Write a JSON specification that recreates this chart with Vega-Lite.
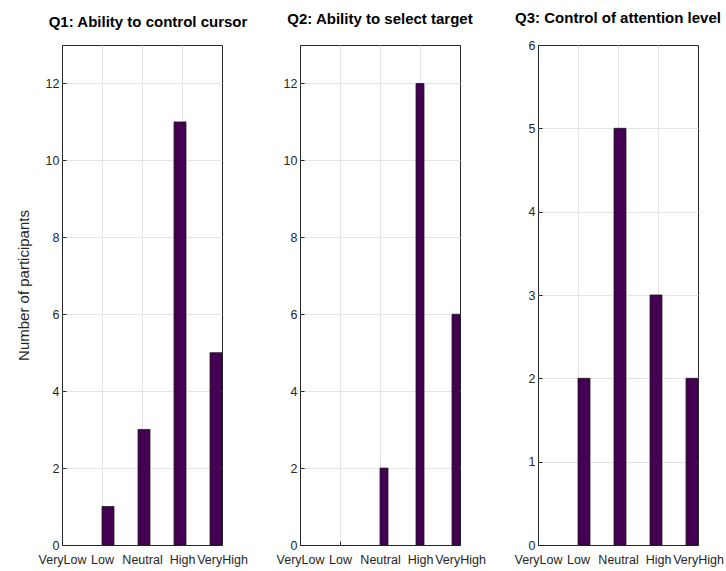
{
  "$schema": "https://vega.github.io/schema/vega-lite/v6.json",
  "padding": {"left": 15, "top": 10, "right": 0, "bottom": 5},
  "background": "white",
  "config": {
    "font": "Liberation Sans",
    "view": {"stroke": "#262626", "strokeWidth": 1},
    "axis": {
      "labelFont": "Liberation Sans",
      "labelFontSize": 12.5,
      "labelColor": "#262626",
      "titleFont": "Liberation Sans",
      "titleFontWeight": "normal",
      "titleColor": "#262626",
      "titleFontSize": 15,
      "gridColor": "#e3e3e3",
      "gridWidth": 1,
      "domain": false,
      "ticks": true,
      "tickSize": -4,
      "tickColor": "#262626",
      "tickWidth": 1
    },
    "title": {"font": "Liberation Sans", "fontSize": 15, "fontWeight": "bold", "color": "#000000", "anchor": "middle"}
  },
  "datasets": {
    "q": [
      {"q": "Q1", "level": "VeryLow", "count": 0},
      {"q": "Q1", "level": "Low", "count": 1},
      {"q": "Q1", "level": "Neutral", "count": 3},
      {"q": "Q1", "level": "High", "count": 11},
      {"q": "Q1", "level": "VeryHigh", "count": 5},
      {"q": "Q2", "level": "VeryLow", "count": 0},
      {"q": "Q2", "level": "Low", "count": 0},
      {"q": "Q2", "level": "Neutral", "count": 2},
      {"q": "Q2", "level": "High", "count": 12},
      {"q": "Q2", "level": "VeryHigh", "count": 6},
      {"q": "Q3", "level": "VeryLow", "count": 0},
      {"q": "Q3", "level": "Low", "count": 2},
      {"q": "Q3", "level": "Neutral", "count": 5},
      {"q": "Q3", "level": "High", "count": 3},
      {"q": "Q3", "level": "VeryHigh", "count": 2}
    ]
  },
  "spacing": 78,
  "bounds": "flush",
  "hconcat": [
    {
      "width": 160, "height": 500,
      "title": {"text": "Q1: Ability to control cursor", "offset": 15, "dx": 6},
      "data": {"name": "q"},
      "transform": [{"filter": "datum.q == 'Q1'"}],
      "layer": [
        {
          "mark": {"type": "rule", "opacity": 0},
          "encoding": {
            "x": {"field": "level", "type": "ordinal", "sort": ["VeryLow", "Low", "Neutral", "High", "VeryHigh"], "scale": {"type": "point", "padding": 0}, "axis": {"title": null, "grid": true, "gridOpacity": {"condition": {"test": "datum.value == 'VeryLow' || datum.value == 'VeryHigh'", "value": 0}, "value": 1}, "labelAngle": 0, "labelPadding": 12}}
          }
        },
        {
          "mark": {"type": "bar", "fill": "#440154", "stroke": "#1a1a1a", "strokeWidth": 0.8},
          "encoding": {
            "x": {"field": "level", "type": "ordinal", "sort": ["VeryLow", "Low", "Neutral", "High", "VeryHigh"], "scale": {"type": "band", "paddingInner": 0.667, "paddingOuter": 0.0556, "align": 1}, "axis": null},
            "y": {"field": "count", "type": "quantitative", "scale": {"domain": [0, 13], "nice": false}, "axis": {"values": [0, 2, 4, 6, 8, 10, 12], "grid": true, "gridOpacity": {"condition": {"test": "datum.value == 0", "value": 0}, "value": 1}, "title": "Number of participants", "titlePadding": 14, "titleY": 240, "labelPadding": 7}},
            "strokeOpacity": {"condition": {"test": "datum.count == 0", "value": 0}, "value": 1}
          }
        }
      ],
      "resolve": {"scale": {"x": "independent"}}
    },
    {
      "width": 160, "height": 500,
      "title": {"text": "Q2: Ability to select target", "offset": 18},
      "data": {"name": "q"},
      "transform": [{"filter": "datum.q == 'Q2'"}],
      "layer": [
        {
          "mark": {"type": "rule", "opacity": 0},
          "encoding": {
            "x": {"field": "level", "type": "ordinal", "sort": ["VeryLow", "Low", "Neutral", "High", "VeryHigh"], "scale": {"type": "point", "padding": 0}, "axis": {"title": null, "grid": true, "gridOpacity": {"condition": {"test": "datum.value == 'VeryLow' || datum.value == 'VeryHigh'", "value": 0}, "value": 1}, "labelAngle": 0, "labelPadding": 12}}
          }
        },
        {
          "mark": {"type": "bar", "fill": "#440154", "stroke": "#1a1a1a", "strokeWidth": 0.8},
          "encoding": {
            "x": {"field": "level", "type": "ordinal", "sort": ["VeryLow", "Low", "Neutral", "High", "VeryHigh"], "scale": {"type": "band", "paddingInner": 0.778, "paddingOuter": 0.111, "align": 1}, "axis": null},
            "y": {"field": "count", "type": "quantitative", "scale": {"domain": [0, 13], "nice": false}, "axis": {"values": [0, 2, 4, 6, 8, 10, 12], "grid": true, "gridOpacity": {"condition": {"test": "datum.value == 0", "value": 0}, "value": 1}, "title": null, "labelPadding": 7}},
            "strokeOpacity": {"condition": {"test": "datum.count == 0", "value": 0}, "value": 1}
          }
        }
      ],
      "resolve": {"scale": {"x": "independent"}}
    },
    {
      "width": 160, "height": 500,
      "title": {"text": "Q3: Control of attention level", "offset": 13},
      "data": {"name": "q"},
      "transform": [{"filter": "datum.q == 'Q3'"}],
      "layer": [
        {
          "mark": {"type": "rule", "opacity": 0},
          "encoding": {
            "x": {"field": "level", "type": "ordinal", "sort": ["VeryLow", "Low", "Neutral", "High", "VeryHigh"], "scale": {"type": "point", "padding": 0}, "axis": {"title": null, "grid": true, "gridOpacity": {"condition": {"test": "datum.value == 'VeryLow' || datum.value == 'VeryHigh'", "value": 0}, "value": 1}, "labelAngle": 0, "labelPadding": 12}}
          }
        },
        {
          "mark": {"type": "bar", "fill": "#440154", "stroke": "#1a1a1a", "strokeWidth": 0.8},
          "encoding": {
            "x": {"field": "level", "type": "ordinal", "sort": ["VeryLow", "Low", "Neutral", "High", "VeryHigh"], "scale": {"type": "band", "paddingInner": 0.667, "paddingOuter": 0.0556, "align": 1}, "axis": null},
            "y": {"field": "count", "type": "quantitative", "scale": {"domain": [0, 6], "nice": false}, "axis": {"values": [0, 1, 2, 3, 4, 5, 6], "grid": true, "gridOpacity": {"condition": {"test": "datum.value == 0 || datum.value == 6", "value": 0}, "value": 1}, "title": null, "labelPadding": 7}},
            "strokeOpacity": {"condition": {"test": "datum.count == 0", "value": 0}, "value": 1}
          }
        }
      ],
      "resolve": {"scale": {"x": "independent"}}
    }
  ]
}
